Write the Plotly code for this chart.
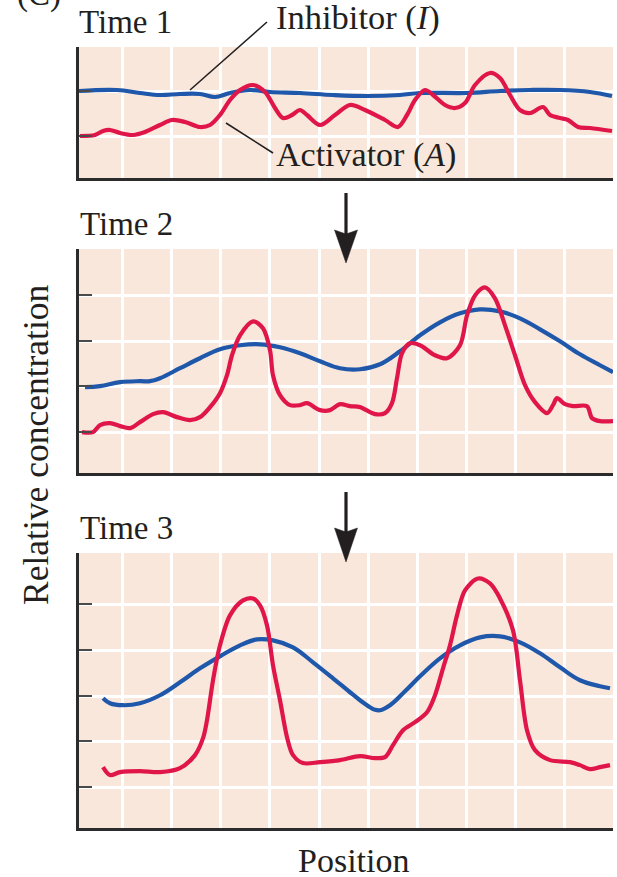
import plotly.graph_objects as go

# ---- data: position (0-534) and relative concentration (arbitrary units) ----
t1_inh_x = [0, 38, 61, 81, 101, 121, 136, 151, 171, 191, 221, 254, 288, 321, 341, 388, 421, 451, 481, 511, 533]
t1_inh_y = [87, 88, 85, 83, 84, 84, 81, 85, 88, 86, 85, 83, 82, 83, 85, 85, 87, 88, 88, 86, 82]
t1_act_x = [1, 16, 24, 31, 41, 54, 66, 81, 93, 106, 121, 131, 141, 151, 161, 174, 186, 196, 204, 213, 221,
            228, 241, 256, 271, 286, 306, 319, 328, 336, 346, 354, 366, 376, 386, 396, 411, 421, 431, 441,
            451, 464, 471, 481, 489, 499, 511, 533]
t1_act_y = [42, 43, 47, 48, 45, 43, 46, 53, 58, 56, 51, 53, 63, 78, 88, 93, 86, 70, 60, 63, 68,
            63, 53, 63, 73, 68, 58, 51, 63, 78, 88, 83, 73, 70, 75, 93, 105, 100, 83, 68,
            65, 71, 63, 60, 58, 51, 50, 47]

t2_inh_x = [6, 21, 41, 61, 71, 81, 101, 121, 141, 161, 181, 201, 221, 241, 261, 281, 301, 321, 341,
            361, 381, 401, 421, 441, 461, 481, 501, 521, 534]
t2_inh_y = [86, 87, 91, 92, 92, 95, 105, 115, 124, 128, 129, 126, 120, 112, 105, 104, 109, 122, 138,
            151, 160, 164, 162, 155, 144, 132, 119, 108, 101]
t2_act_x = [3, 14, 21, 31, 41, 51, 61, 74, 84, 98, 111, 121, 131, 141, 148, 153, 161, 174, 184, 191,
            194, 201, 211, 221, 228, 241, 251, 261, 271, 281, 296, 306, 313, 318, 323, 331, 341, 356,
            368, 381, 388, 396, 406, 416, 426, 436, 446, 456, 468, 474, 478, 486, 494, 508, 513, 521, 534]
t2_act_y = [41, 41, 48, 50, 47, 45, 51, 59, 61, 56, 53, 56, 66, 80, 98, 118, 138, 152, 145, 123,
            98, 78, 68, 68, 70, 63, 63, 69, 67, 66, 59, 60, 70, 95, 120, 130, 128, 118,
            115, 128, 158, 178, 186, 175, 148, 118, 88, 71, 60, 68, 75, 69, 67, 67, 55, 52, 52]

t3_inh_x = [24, 31, 44, 61, 81, 101, 121, 141, 161, 178, 194, 214, 234, 254, 271, 281, 291, 296, 301, 311,
            326, 341, 361, 381, 401, 421, 441, 461, 481, 501, 521, 531]
t3_inh_y = [130, 125, 123, 125, 133, 146, 160, 172, 183, 189, 188, 181, 166, 150, 136, 128, 121, 118.5, 118, 123,
            137, 152, 170, 183, 191, 192, 186, 175, 161, 148, 142, 140]
t3_act_x = [24, 31, 41, 61, 81, 101, 116, 124, 128, 134, 141, 151, 164, 174, 181, 188, 194, 201, 208, 214,
            224, 241, 261, 281, 296, 306, 314, 324, 336, 348, 356, 364, 371, 378, 386, 399, 411, 421,
            434, 441, 448, 456, 471, 491, 501, 511, 521, 531]
t3_act_y = [61, 53, 56, 57, 56, 60, 73, 90, 108, 148, 183, 213, 228, 230, 223, 203, 163, 128, 91, 73,
            65, 66, 68, 72, 70, 71, 83, 98, 106, 116, 133, 160, 183, 213, 238, 250, 245, 230,
            198, 148, 98, 78, 68, 66, 63, 59, 61, 63]

panels = [
    ("Time 1", t1_inh_x, t1_inh_y, t1_act_x, t1_act_y, 131, [42, 87, 131]),
    ("Time 2", t2_inh_x, t2_inh_y, t2_act_x, t2_act_y, 224.5, [41, 87, 132, 178, 224]),
    ("Time 3", t3_inh_x, t3_inh_y, t3_act_x, t3_act_y, 275.5, [41, 87, 132, 178, 224, 275]),
]
grid_x = [43, 92, 141, 190, 240, 289, 338, 387, 436, 485]

# ---- styling ----
W, H = 617, 877
BLUE = "#1f58ab"
RED = "#e0154a"
PEACH = "#f8e7da"
INK = "#231f20"
FONT = "Liberation Serif"


def px(x):
    return x / W


def py(y):
    return 1 - y / H


# plot-area rows (top, bottom) in page pixels
rows = [(47, 178), (249, 473), (553, 828)]

fig = go.Figure()
layout = dict(
    width=W, height=H,
    margin=dict(l=0, r=0, t=0, b=0),
    paper_bgcolor="white",
    plot_bgcolor=PEACH,
    showlegend=False,
    font=dict(family=FONT, color=INK),
)

for i, (title, ix, iy, ax_, ay_, ytop, yticks) in enumerate(panels):
    n = "" if i == 0 else str(i + 1)
    xa, ya = "x" + n, "y" + n
    fig.add_trace(go.Scatter(x=ix, y=iy, mode="lines", xaxis=xa, yaxis=ya,
                             line=dict(color=BLUE, width=4.2, shape="spline", smoothing=1.1)))
    fig.add_trace(go.Scatter(x=ax_, y=ay_, mode="lines", xaxis=xa, yaxis=ya,
                             line=dict(color=RED, width=4.2, shape="spline", smoothing=0.9)))
    top, bot = rows[i]
    layout["xaxis" + n] = dict(
        domain=[px(79), px(613)], range=[0, 534], anchor=ya,
        tickvals=grid_x, showticklabels=False, ticks="",
        showgrid=True, gridcolor="white", gridwidth=2.5, zeroline=False,
        showline=True, linecolor="#2b2b2b", linewidth=2.5, fixedrange=True,
    )
    layout["yaxis" + n] = dict(
        domain=[py(bot), py(top)], range=[0, ytop], anchor=xa,
        tickvals=yticks, showticklabels=False,
        ticks="inside", ticklen=13, tickwidth=2, tickcolor="#4a4a4a",
        showgrid=True, gridcolor="white", gridwidth=2.5, zeroline=False,
        showline=True, linecolor="#2b2b2b", linewidth=2.5, fixedrange=True,
    )

fig.update_layout(**layout)

annotations = []


def label(text, x, y, size=33, xanchor="left", angle=0):
    annotations.append(dict(
        text=text, x=px(x), y=py(y), xref="paper", yref="paper",
        xanchor=xanchor, yanchor="middle", showarrow=False, textangle=angle,
        font=dict(family=FONT, size=size, color=INK),
    ))


label("(C)", 15, -6)
label("Time 1", 77, 22)
label("Time 2", 78, 224)
label("Time 3", 78, 528)
label("Inhibitor (<i>I</i>)", 274, 18, size=34.5)
label("Activator (<i>A</i>)", 274, 155, size=34)
label("Position", 353, 860, size=34, xanchor="center")
label("Relative concentration", 36, 445, size=35.5, xanchor="center", angle=-90)
fig.update_layout(annotations=annotations)

shapes = []
# leader lines from the series names to their curves
for (x0, y0, x1, y1) in [(267, 22, 190, 90), (226, 123, 273, 153)]:
    shapes.append(dict(type="line", xref="paper", yref="paper",
                       x0=px(x0), y0=py(y0), x1=px(x1), y1=py(y1),
                       line=dict(color=INK, width=1.6)))

# downward arrows between time points
for (cx, ys, yb, yt) in [(346, 193, 230, 263), (346, 492, 528, 562)]:
    shapes.append(dict(type="line", xref="paper", yref="paper",
                       x0=px(cx), y0=py(ys), x1=px(cx), y1=py(yb + 4),
                       line=dict(color=INK, width=3.2)))
    path = (f"M {px(cx - 11.5)} {py(yb)} L {px(cx)} {py(yb + 4)} L {px(cx + 11.5)} {py(yb)} "
            f"L {px(cx)} {py(yt)} Z")
    shapes.append(dict(type="path", xref="paper", yref="paper", path=path,
                       fillcolor=INK, line=dict(color=INK, width=0.5), layer="above"))

fig.update_layout(shapes=shapes)
fig.write_html("out.html")
